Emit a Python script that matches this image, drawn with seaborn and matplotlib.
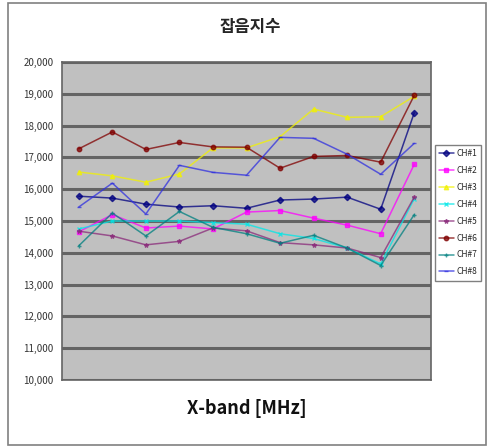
import pandas as pd
import matplotlib
matplotlib.use("Agg")
import matplotlib.pyplot as plt
import seaborn as sns
from matplotlib.ticker import FuncFormatter, FixedLocator

# dados (11 pontos por canal)
pontos = list(range(11))
canais = ["CH#1", "CH#2", "CH#3", "CH#4", "CH#5", "CH#6", "CH#7", "CH#8"]
ch1 = [15780, 15720, 15530, 15440, 15480, 15400, 15660, 15690, 15750, 15370, 18400]
ch2 = [14660, 15200, 14780, 14840, 14750, 15280, 15330, 15090, 14870, 14600, 16780]
ch3 = [16540, 16420, 16220, 16480, 17300, 17300, 17650, 18520, 18260, 18280, 18920]
ch4 = [14750, 15000, 15000, 15000, 14950, 14900, 14600, 14450, 14150, 13650, 15700]
ch5 = [14680, 14530, 14250, 14360, 14780, 14690, 14320, 14250, 14150, 13850, 15750]
ch6 = [17270, 17800, 17250, 17470, 17330, 17320, 16660, 17030, 17060, 16850, 18950]
ch7 = [14220, 15250, 14530, 15300, 14800, 14600, 14300, 14550, 14150, 13600, 15200]
ch8 = [15440, 16190, 15220, 16750, 16530, 16440, 17630, 17600, 17100, 16470, 17440]
valores = [ch1, ch2, ch3, ch4, ch5, ch6, ch7, ch8]

titulo = "잡음지수"
rotulo_x = "X-band [MHz]"

cores = ["#000080", "#FF00FF", "#F2F200", "#00E8E8", "#8A2A7A", "#800000", "#008080", "#3030E0"]
marcadores = ["D", "s", "^", "x", "*", "o", "+", "_"]

sns.set_theme(style="white")
plt.rcParams['font.family'] = ['Noto Sans CJK KR', 'DejaVu Sans']

fig = plt.figure(figsize=(4.9, 4.48), dpi=100)
fig.patch.set_facecolor("white")
# moldura externa
fig.add_artist(plt.Rectangle((8 / 490, 3 / 448), 478 / 490, 442 / 448, transform=fig.transFigure,
                             fill=False, edgecolor="#808080", lw=1.2))

ax = fig.add_axes([62 / 490, 68 / 448, 369 / 490, 318 / 448])
ax.set_facecolor("#C0C0C0")

for canal, serie, cor, mk in zip(canais, valores, cores, marcadores):
    sns.lineplot(x=pontos, y=serie, color=cor, marker=mk, markersize=3.2, linewidth=1.1,
                 alpha=0.75, markeredgewidth=1, markeredgecolor=cor, label=canal, ax=ax)

ax.set_xlim(-0.5, 10.5)
ax.set_ylim(10000, 20000)
ax.set_yticks(range(10000, 20001, 1000))
ax.yaxis.set_major_formatter(FuncFormatter(lambda v, p: f"{int(v):,}"))
ax.xaxis.set_major_locator(FixedLocator([i + 0.5 for i in range(10)]))
ax.set_xticklabels([])
ax.tick_params(axis="x", direction="in", length=3, color="#606060")
ax.tick_params(axis="y", length=0, labelsize=7, labelcolor="#333333", pad=6)
ax.grid(axis="y", color="#646464", lw=2.2)
ax.set_axisbelow(True)
for lado in ax.spines.values():
    lado.set_color("#646464")
    lado.set_linewidth(1.2)

ax.set_xlabel(rotulo_x, fontsize=13, fontweight="bold", labelpad=10, color="#111111")
ax.set_ylabel("")
fig.text(250 / 490, 1 - 27 / 448, titulo, ha="center", va="center", fontsize=12, fontweight="bold")

leg = ax.legend(loc="upper left", bbox_to_anchor=(1.005, 0.745), frameon=True, fontsize=6,
                handlelength=1.8, labelspacing=0.95, borderpad=0.5, handletextpad=0.3,
                borderaxespad=0.2, fancybox=False, edgecolor="#606060")
leg.get_frame().set_linewidth(1.0)

fig.savefig("out.png", dpi=100)
